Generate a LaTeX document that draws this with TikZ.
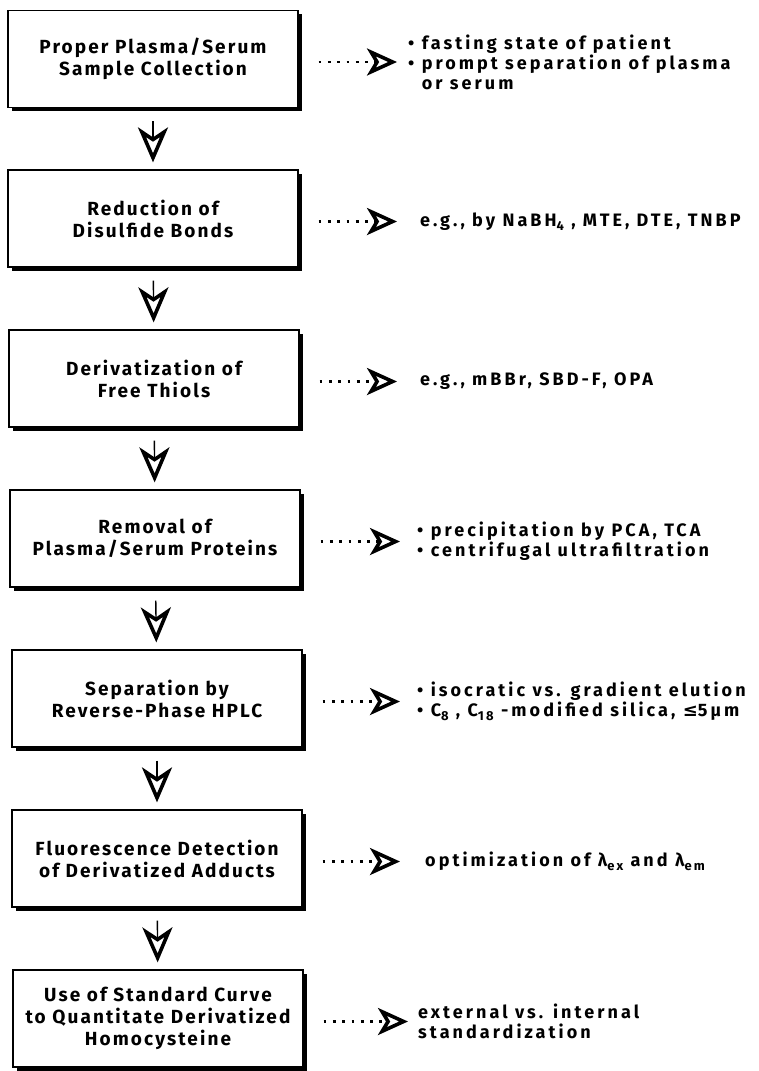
\documentclass[tikz,border=0pt]{standalone}
\usepackage{fontspec}
\setmainfont{Fira Sans}[LetterSpace=11]
\newfontfamily\rtfont{Fira Sans}[LetterSpace=17]
\newfontfamily\symfont{DejaVu Sans}
\usetikzlibrary{arrows.meta,shadows}
\newcommand{\sbs}[1]{\raisebox{-0.4ex}{\fontsize{13}{13}\selectfont #1}}
\begin{document}
\begin{tikzpicture}[x=1pt,y=-1pt,
  box/.style={draw, line width=1.2pt, fill=white, minimum width=290pt, minimum height=97pt,
    align=center, font=\fontsize{19}{22}\selectfont\bfseries,
    drop shadow={shadow xshift=3.5pt, shadow yshift=-3.5pt, fill=black, opacity=1}},
  rt/.style={anchor=west, align=left, inner sep=0pt, font=\rtfont\fontsize{18}{20}\selectfont\bfseries},
  varr/.style={line width=1.4pt, -{Stealth[open, length=35pt, width=30pt, inset=10pt, line width=3.6pt]},
    shorten <=13pt, shorten >=7pt},
  harr/.style={line width=2.8pt, dash pattern=on 2.8pt off 6.5pt,
    -{Stealth[open, length=30pt, width=27pt, inset=8pt, line width=3.6pt]}, shorten <=20pt}
]
\useasboundingbox[fill=white] (0,0) rectangle (758,1071);

\node[box] (b1) at (153,59) {Proper Plasma/Serum\\Sample Collection};
\node[box] (b2) at (153,218.5) {Reduction of\\Disulfide Bonds};
\node[box] (b3) at (154,378.5) {Derivatization of\\Free Thiols};
\node[box] (b4) at (155,538.5) {Removal of\\Plasma/Serum Proteins};
\node[box] (b5) at (157,698.5) {Separation by\\Reverse-Phase HPLC};
\node[box] (b6) at (157,858.5) {Fluorescence Detection\\of Derivatized Adducts};
\node[box] (b7) at (158,1018.5) {Use of Standard Curve\\to Quantitate Derivatized\\Homocysteine};

\node[rt] (t1) at (408,62) {• fasting state of patient\\• prompt separation of plasma\\\hphantom{• }or serum};
\node[rt] (t2) at (420,221.5) {e.g., by NaBH\sbs{4} , MTE, DTE, TNBP};
\node[rt] (t3) at (420,381.5) {e.g., mBBr, SBD-F, OPA};
\node[rt] (t4) at (417,541.5) {• precipitation by PCA, TCA\\• centrifugal ultrafiltration};
\node[rt] (t5) at (417,701.5) {• isocratic vs. gradient elution\\• C\sbs{8} , C\sbs{18} -modified silica, {\symfont\bfseries ≤}5µm};
\node[rt] (t6) at (425,861.5) {optimization of λ\sbs{ex} and λ\sbs{em}};
\node[rt] (t7) at (418,1021.5) {external vs. internal\\standardization};

\draw[varr] (b1) -- (b2);
\draw[varr] (b2) -- (b3);
\draw[varr] (b3) -- (b4);
\draw[varr] (b4) -- (b5);
\draw[varr] (b5) -- (b6);
\draw[varr] (b6) -- (b7);

\draw[harr, shorten >=11pt] (b1.east |- t1.west) -- (t1.west);
\draw[harr, shorten >=23pt] (b2.east |- t2.west) -- (t2.west);
\draw[harr, shorten >=23pt] (b3.east |- t3.west) -- (t3.west);
\draw[harr, shorten >=17pt] (b4.east |- t4.west) -- (t4.west);
\draw[harr, shorten >=17pt] (b5.east |- t5.west) -- (t5.west);
\draw[harr, shorten >=25pt] (b6.east |- t6.west) -- (t6.west);
\draw[harr, shorten >=10pt] (b7.east |- t7.west) -- (t7.west);
\end{tikzpicture}
\end{document}
